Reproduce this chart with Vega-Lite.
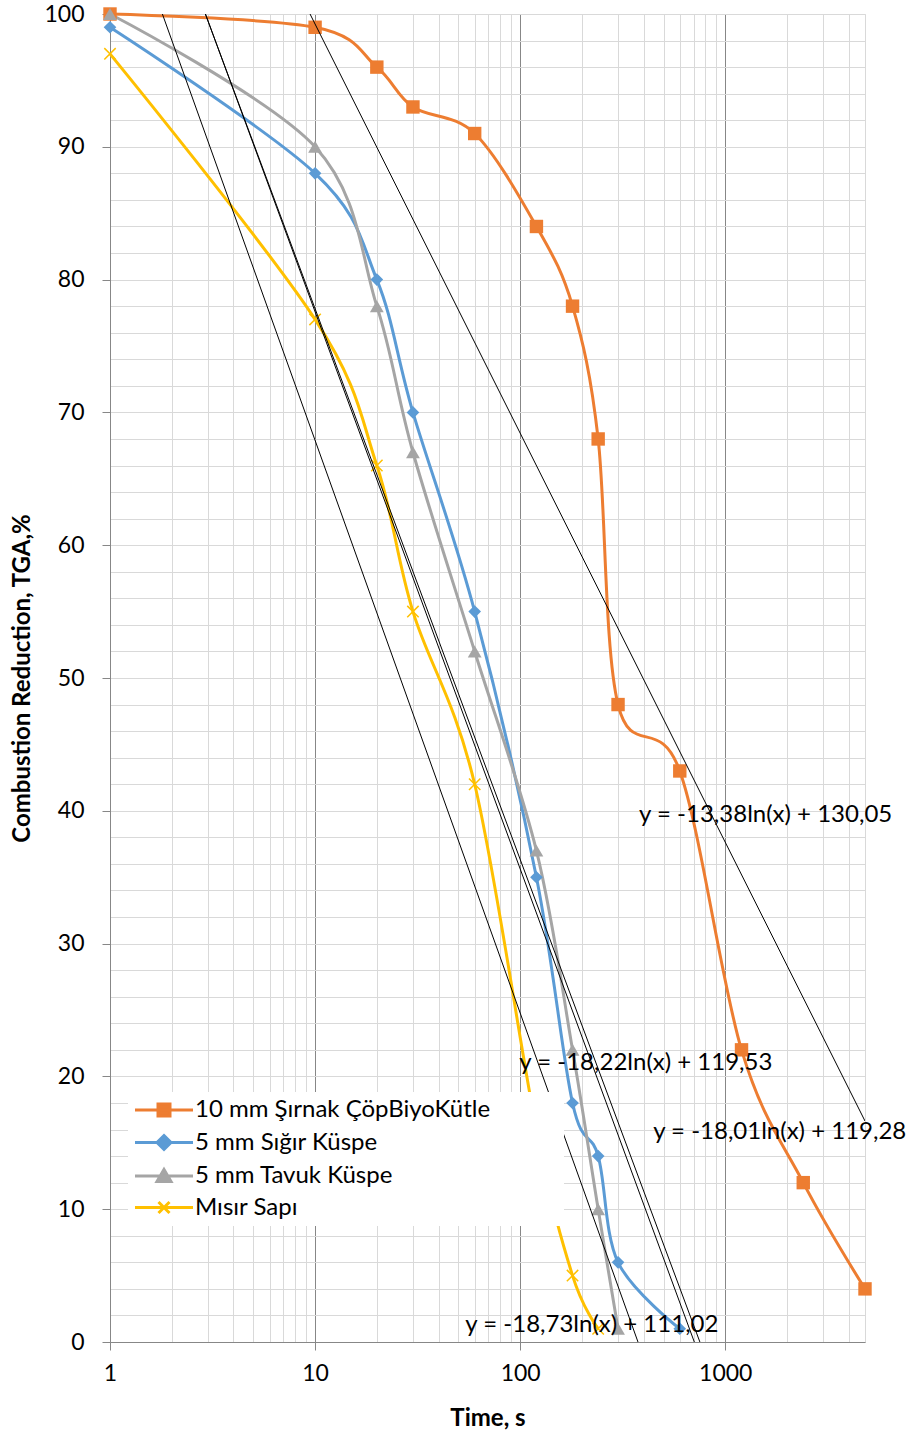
{
  "$schema": "https://vega.github.io/schema/vega-lite/v6.json",
  "width": 755,
  "height": 1328,
  "autosize": {"type": "none"},
  "padding": {"left": 110, "top": 14, "right": 41, "bottom": 92},
  "background": "white",
  "config": {"view": {"stroke": "#d9d9d9"}, "font": "Lato"},
  "datasets": {
    "series": [
      {"series": "10 mm Şırnak ÇöpBiyoKütle", "t": 1, "r": 100},
      {"series": "10 mm Şırnak ÇöpBiyoKütle", "t": 10, "r": 99},
      {"series": "10 mm Şırnak ÇöpBiyoKütle", "t": 20, "r": 96},
      {"series": "10 mm Şırnak ÇöpBiyoKütle", "t": 30, "r": 93},
      {"series": "10 mm Şırnak ÇöpBiyoKütle", "t": 60, "r": 91},
      {"series": "10 mm Şırnak ÇöpBiyoKütle", "t": 120, "r": 84},
      {"series": "10 mm Şırnak ÇöpBiyoKütle", "t": 180, "r": 78},
      {"series": "10 mm Şırnak ÇöpBiyoKütle", "t": 240, "r": 68},
      {"series": "10 mm Şırnak ÇöpBiyoKütle", "t": 300, "r": 48},
      {"series": "10 mm Şırnak ÇöpBiyoKütle", "t": 600, "r": 43},
      {"series": "10 mm Şırnak ÇöpBiyoKütle", "t": 1200, "r": 22},
      {"series": "10 mm Şırnak ÇöpBiyoKütle", "t": 2400, "r": 12},
      {"series": "10 mm Şırnak ÇöpBiyoKütle", "t": 4800, "r": 4},
      {"series": "5 mm Sığır Küspe", "t": 1, "r": 99},
      {"series": "5 mm Sığır Küspe", "t": 10, "r": 88},
      {"series": "5 mm Sığır Küspe", "t": 20, "r": 80},
      {"series": "5 mm Sığır Küspe", "t": 30, "r": 70},
      {"series": "5 mm Sığır Küspe", "t": 60, "r": 55},
      {"series": "5 mm Sığır Küspe", "t": 120, "r": 35},
      {"series": "5 mm Sığır Küspe", "t": 180, "r": 18},
      {"series": "5 mm Sığır Küspe", "t": 240, "r": 14},
      {"series": "5 mm Sığır Küspe", "t": 300, "r": 6},
      {"series": "5 mm Sığır Küspe", "t": 600, "r": 1},
      {"series": "5 mm Tavuk Küspe", "t": 1, "r": 100},
      {"series": "5 mm Tavuk Küspe", "t": 10, "r": 90},
      {"series": "5 mm Tavuk Küspe", "t": 20, "r": 78},
      {"series": "5 mm Tavuk Küspe", "t": 30, "r": 67},
      {"series": "5 mm Tavuk Küspe", "t": 60, "r": 52},
      {"series": "5 mm Tavuk Küspe", "t": 120, "r": 37},
      {"series": "5 mm Tavuk Küspe", "t": 180, "r": 22},
      {"series": "5 mm Tavuk Küspe", "t": 240, "r": 10},
      {"series": "5 mm Tavuk Küspe", "t": 300, "r": 1},
      {"series": "Mısır Sapı", "t": 1, "r": 97},
      {"series": "Mısır Sapı", "t": 10, "r": 77},
      {"series": "Mısır Sapı", "t": 20, "r": 66},
      {"series": "Mısır Sapı", "t": 30, "r": 55},
      {"series": "Mısır Sapı", "t": 60, "r": 42},
      {"series": "Mısır Sapı", "t": 120, "r": 16},
      {"series": "Mısır Sapı", "t": 180, "r": 5},
      {"series": "Mısır Sapı", "t": 240, "r": 1}
    ],
    "trends": [
      {"trend": "o", "t": 9.449, "r": 100},
      {"trend": "o", "t": 4800, "r": 16.64},
      {"trend": "b", "t": 2.921, "r": 100},
      {"trend": "b", "t": 706.4, "r": 0},
      {"trend": "g", "t": 2.917, "r": 100},
      {"trend": "g", "t": 752, "r": 0},
      {"trend": "y", "t": 1.801, "r": 100},
      {"trend": "y", "t": 375.3, "r": 0}
    ],
    "labels": [
      {"label": "y = -13,38ln(x) + 130,05", "t": 380, "r": 39.7},
      {"label": "y = -18,22ln(x) + 119,53", "t": 99, "r": 21.0},
      {"label": "y = -18,01ln(x) + 119,28", "t": 445, "r": 15.8},
      {"label": "y = -18,73ln(x) + 111,02", "t": 54, "r": 1.3}
    ]
  },
  "encoding": {
    "x": {
      "field": "t",
      "type": "quantitative",
      "scale": {"type": "log", "domain": [1, 4800], "nice": false},
      "axis": {
        "title": "Time, s",
        "values": [1,2,3,4,5,6,7,8,9,10,20,30,40,50,60,70,80,90,100,200,300,400,500,600,700,800,900,1000,2000,3000,4000],
        "labelExpr": "indexof([1,10,100,1000], datum.value) >= 0 ? datum.value + '' : ''",
        "labelFont": "Lato",
        "labelFontSize": 23,
        "labelColor": "#000000",
        "labelPadding": 12,
        "labelOverlap": false,
        "labelFlush": false,
        "tickSize": 8,
        "tickColor": "#878787",
        "tickOpacity": {"condition": {"test": "indexof([1,10,100,1000], datum.value) >= 0", "value": 1}, "value": 0},
        "grid": true,
        "gridColor": {"condition": {"test": "indexof([1,10,100,1000], datum.value) >= 0", "value": "#878787"}, "value": "#d9d9d9"},
        "gridWidth": 1,
        "domainColor": "#878787",
        "titleFont": "Lato",
        "titleFontSize": 24,
        "titleFontWeight": "bold",
        "titleColor": "#000000",
        "titleY": 76,
        "titleBaseline": "middle"
      }
    },
    "y": {
      "field": "r",
      "type": "quantitative",
      "scale": {"domain": [0, 100], "nice": false},
      "axis": {
        "title": "Combustion Reduction, TGA,%",
        "values": [0,2,4,6,8,10,12,14,16,18,20,22,24,26,28,30,32,34,36,38,40,42,44,46,48,50,52,54,56,58,60,62,64,66,68,70,72,74,76,78,80,82,84,86,88,90,92,94,96,98,100],
        "labelExpr": "datum.value % 10 === 0 ? datum.value + '' : ''",
        "labelFont": "Lato",
        "labelFontSize": 23,
        "labelColor": "#000000",
        "labelPadding": 18,
        "labelOverlap": false,
        "labelFlush": false,
        "tickSize": 8,
        "tickColor": "#878787",
        "tickOpacity": {"condition": {"test": "datum.value % 10 === 0", "value": 1}, "value": 0},
        "grid": true,
        "gridColor": "#d9d9d9",
        "gridWidth": 1,
        "domainColor": "#878787",
        "titleFont": "Lato",
        "titleFontSize": 24,
        "titleFontWeight": "bold",
        "titleColor": "#000000",
        "titleAngle": 270,
        "titleX": -88,
        "titleY": 664,
        "titleAlign": "center",
        "titleBaseline": "middle"
      }
    }
  },
  "layer": [
    {
      "data": {"name": "series"},
      "mark": {"type": "line", "interpolate": "cardinal", "strokeWidth": 3},
      "encoding": {
        "color": {
          "field": "series",
          "type": "nominal",
          "scale": {
            "domain": ["10 mm Şırnak ÇöpBiyoKütle", "5 mm Sığır Küspe", "5 mm Tavuk Küspe", "Mısır Sapı"],
            "range": ["#ED7D31", "#5B9BD5", "#A5A5A5", "#FFC000"]
          },
          "legend": {
            "title": null,
            "orient": "none",
            "legendX": 18,
            "legendY": 1078,
            "fillColor": "white",
            "padding": 6,
            "zindex": 1,
            "labelFont": "Lato",
            "labelFontSize": 24,
            "labelColor": "#000000",
            "labelLimit": 0,
            "labelOffset": 19,
            "labelExpr": "pad(datum.label, 36, '\u00a0') + '\u200b'",
            "rowPadding": 7.5,
            "symbolSize": 400,
            "symbolStrokeWidth": 3,
            "symbolOpacity": 1,
            "symbolOffset": 18
          }
        }
      }
    },
    {
      "data": {"name": "series"},
      "mark": {"type": "point", "filled": true, "opacity": 0},
      "encoding": {
        "color": {
          "field": "series",
          "type": "nominal",
          "scale": {
            "domain": ["10 mm Şırnak ÇöpBiyoKütle", "5 mm Sığır Küspe", "5 mm Tavuk Küspe", "Mısır Sapı"],
            "range": ["#ED7D31", "#5B9BD5", "#A5A5A5", "#FFC000"]
          }
        },
        "shape": {
          "field": "series",
          "type": "nominal",
          "scale": {
            "domain": ["10 mm Şırnak ÇöpBiyoKütle", "5 mm Sığır Küspe", "5 mm Tavuk Küspe", "Mısır Sapı"],
            "range": [
              "M-2.9,0L2.9,0M-0.6,-0.6L0.6,-0.6L0.6,0.6L-0.6,0.6Z",
              "M-2.9,0L2.9,0M0,-0.7L0.7,0L0,0.7L-0.7,0Z",
              "M-2.9,0L2.9,0M0,-0.65L0.7,0.55L-0.7,0.55Z",
              "M-2.9,0L2.9,0M-0.55,-0.55L0.55,0.55M-0.55,0.55L0.55,-0.55"
            ]
          },
          "legend": null
        }
      }
    },
    {
      "data": {"name": "series"},
      "transform": [{"filter": "datum.series === '10 mm Şırnak ÇöpBiyoKütle'"}],
      "mark": {"type": "point", "shape": "square", "filled": true, "color": "#ED7D31", "size": 180, "opacity": 1}
    },
    {
      "data": {"name": "series"},
      "transform": [{"filter": "datum.series === '5 mm Sığır Küspe'"}],
      "mark": {"type": "point", "shape": "diamond", "filled": true, "color": "#5B9BD5", "size": 160, "opacity": 1}
    },
    {
      "data": {"name": "series"},
      "transform": [{"filter": "datum.series === '5 mm Tavuk Küspe'"}],
      "mark": {"type": "point", "shape": "triangle-up", "filled": true, "color": "#A5A5A5", "size": 190, "opacity": 1}
    },
    {
      "data": {"name": "series"},
      "transform": [{"filter": "datum.series === 'Mısır Sapı'"}],
      "mark": {"type": "point", "shape": "M-1,-1L1,1M-1,1L1,-1", "filled": false, "color": "#FFC000", "strokeWidth": 1.5, "size": 130, "opacity": 1}
    },
    {
      "data": {"name": "trends"},
      "mark": {"type": "line", "color": "#000000", "strokeWidth": 1, "clip": true},
      "encoding": {"detail": {"field": "trend", "type": "nominal"}}
    },
    {
      "data": {"name": "labels"},
      "mark": {"type": "text", "align": "left", "baseline": "middle", "font": "Lato", "fontSize": 24, "color": "#000000"},
      "encoding": {"text": {"field": "label", "type": "nominal"}}
    }
  ]
}
